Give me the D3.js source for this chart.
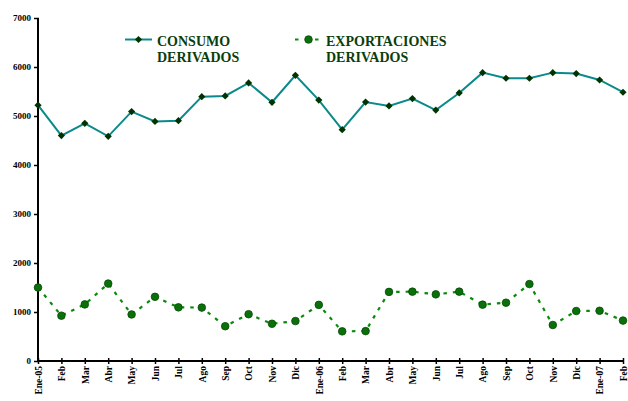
<!DOCTYPE html>
<html><head><meta charset="utf-8">
<script src="https://cdn.jsdelivr.net/npm/d3@7/dist/d3.min.js"></script>
<style>
html,body{margin:0;padding:0;background:#fff;}
svg{display:block;}
text{font-family:"Liberation Serif","Times New Roman",serif;font-weight:bold;}
</style></head>
<body><svg id="c" width="628" height="401"></svg>
<script>
const months = ["Ene-05","Feb","Mar","Abr","May","Jun","Jul","Ago","Sep","Oct","Nov","Dic",
  "Ene-06","Feb","Mar","Abr","May","Jun","Jul","Ago","Sep","Oct","Nov","Dic","Ene-07","Feb"];
const consumo = [5220,4600,4850,4585,5090,4890,4905,5395,5410,5675,5280,5830,
  5325,4720,5285,5205,5355,5120,5470,5885,5770,5770,5885,5865,5735,5485];
const exportaciones = [1500,925,1155,1580,950,1310,1095,1090,710,955,760,815,
  1145,605,610,1410,1415,1360,1415,1150,1190,1570,735,1020,1025,825];
const yTicks = [0,1000,2000,3000,4000,5000,6000,7000];
const legendLabels = [["CONSUMO","DERIVADOS"],["EXPORTACIONES","DERIVADOS"]];

const svg = d3.select("#c");
const x0 = 38, x1 = 623, yTop = 18, yBot = 361;
const idx = months.map((d,i)=>i);
const x = d3.scaleLinear().domain([0, months.length-1]).range([x0, x1]);
const y = d3.scaleLinear().domain([0,7000]).range([yBot, yTop]);

// Y axis
const yAxis = d3.axisLeft(y).tickValues(yTicks).tickSize(4).tickPadding(3).tickFormat(d3.format("d"));
const gy = svg.append("g").attr("transform",`translate(${x0},0)`).call(yAxis);
gy.select(".domain").attr("stroke","#000").attr("stroke-width",2).attr("d",`M0,${yBot+1}V${yTop}`);
gy.selectAll(".tick line").attr("stroke","#000").attr("stroke-width",1.5).attr("x1",1);
gy.selectAll(".tick text").attr("font-size",9).attr("fill","#000")
  .style("font-family","'Liberation Serif',serif").style("font-weight","bold");

// X axis
const xAxis = d3.axisBottom(x).tickValues(idx).tickSize(3).tickFormat(i=>months[i]);
const gx = svg.append("g").attr("transform",`translate(0,${yBot})`).call(xAxis);
gx.select(".domain").attr("stroke","#000").attr("stroke-width",2).attr("d",`M${x0-1},0H${x1}`);
gx.selectAll(".tick line").attr("stroke","#000").attr("stroke-width",1.5).attr("y1",-3).attr("y2",3);
gx.selectAll(".tick text").attr("font-size",9.5).attr("fill","#000")
  .style("font-family","'Liberation Serif',serif").style("font-weight","bold")
  .attr("transform","rotate(-90)").attr("text-anchor","end")
  .attr("x",-5).attr("y",0).attr("dy","0.35em");

// Consumo
const lineC = d3.line().x((d,i)=>x(i)).y(d=>y(d));
svg.append("path").datum(consumo).attr("d",lineC).attr("fill","none")
  .attr("stroke","#0a8a8a").attr("stroke-width",2);
const diamond = d3.symbol().type(d3.symbolSquare).size(26);
svg.selectAll(".mc").data(consumo).join("path").attr("class","mc")
  .attr("d",diamond).attr("transform",(d,i)=>`translate(${x(i)},${y(d)}) rotate(45)`)
  .attr("fill","#003300");

// Exportaciones
svg.append("path").datum(exportaciones).attr("d",lineC).attr("fill","none")
  .attr("stroke","#0a8a0a").attr("stroke-width",2.2).attr("stroke-dasharray","3.5,6");
svg.selectAll(".me").data(exportaciones).join("circle").attr("class","me")
  .attr("cx",(d,i)=>x(i)).attr("cy",d=>y(d)).attr("r",3.8)
  .attr("fill","#0a700a").attr("stroke","#044a04").attr("stroke-width",0.8);

// Legend
const lg = svg.append("g");
lg.append("line").attr("x1",125).attr("x2",152).attr("y1",39.5).attr("y2",39.5)
  .attr("stroke","#0a8a8a").attr("stroke-width",2);
lg.append("path").attr("d",diamond).attr("transform","translate(138.5,39.5) rotate(45)").attr("fill","#003300");
lg.append("line").attr("x1",295).attr("x2",322).attr("y1",39.5).attr("y2",39.5)
  .attr("stroke","#0a8a0a").attr("stroke-width",2.2).attr("stroke-dasharray","3.5,6.5");
lg.append("circle").attr("cx",308.5).attr("cy",39.5).attr("r",3.8)
  .attr("fill","#0a700a").attr("stroke","#044a04").attr("stroke-width",0.8);
const lx = [157,326];
legendLabels.forEach((lines,k)=>{
  lines.forEach((t,j)=>{
    lg.append("text").attr("x",lx[k]).attr("y",46+j*15.7).attr("font-size",14)
      .attr("fill","#0b3d0b").text(t);
  });
});
</script></body></html>
